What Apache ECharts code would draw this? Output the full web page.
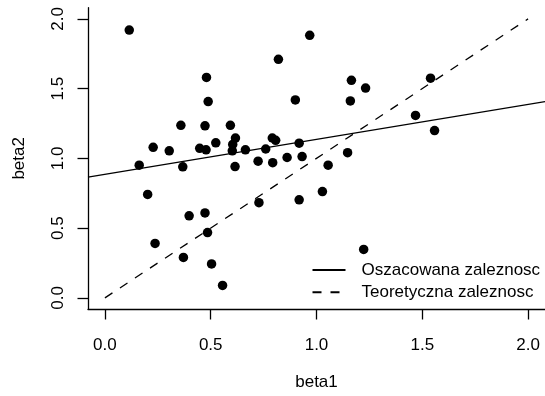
<!DOCTYPE html>
<html>
<head>
<meta charset="utf-8">
<script src="https://cdn.jsdelivr.net/npm/echarts@6/dist/echarts.min.js"></script>
<style>
html,body{margin:0;padding:0;background:#fff;}
#c{width:545px;height:396px;}
</style>
</head>
<body>
<div id="c"></div>
<script>
// Data
var beta1 = [0.115,0.820,0.968,0.480,0.488,0.900,1.165,1.232,1.160,1.539,1.468,1.558,
  0.359,0.473,0.593,0.228,0.304,0.448,0.478,0.524,0.617,0.604,0.602,0.664,0.760,0.791,
  0.807,0.724,0.793,0.861,0.918,0.932,1.055,1.147,0.162,0.368,0.615,0.202,0.398,0.473,
  0.728,0.918,1.028,0.485,0.237,0.371,0.504,0.556,1.223];
var beta2 = [1.920,1.710,1.882,1.580,1.407,1.419,1.559,1.504,1.412,1.575,1.308,1.199,
  1.237,1.233,1.237,1.079,1.054,1.072,1.061,1.111,1.145,1.100,1.054,1.061,1.067,1.146,
  1.129,0.980,0.969,1.006,1.109,1.013,0.951,1.041,0.951,0.939,0.941,0.741,0.588,0.609,
  0.682,0.703,0.762,0.468,0.390,0.290,0.243,0.089,0.347];
// fitted line endpoints (at plot edges) and theoretical line
var fitX = [-0.08, 2.08];
var fitY = [0.866, 1.407];
var theoX = [0, 2];
var theoY = [0, 2];
var tickValues = [0, 0.5, 1, 1.5, 2];
var seriesNames = ['Oszacowana zaleznosc', 'Teoretyczna zaleznosc'];

var pts = beta1.map(function(x, i){ return [x, beta2[i]]; });
var fitData = fitX.map(function(x, i){ return [x, fitY[i]]; });
var theoData = theoX.map(function(x, i){ return [x, theoY[i]]; });

var FONT = 'Liberation Sans';
var FS = 17;
function fmt(v){ return v.toFixed(1); }

var chart = echarts.init(document.getElementById('c'), null, {renderer:'canvas'});
chart.setOption({
  animation: false,
  backgroundColor: '#ffffff',
  textStyle: {fontFamily: FONT, color: '#000'},
  grid: {left: 88, right: 0, top: 7.7, bottom: 83.4, containLabel: false},
  legend: {
    orient: 'vertical',
    left: 311.5, top: 261.5,
    padding: 0,
    itemWidth: 33, itemHeight: 17, itemGap: 5.2,
    data: seriesNames,
    itemStyle: {opacity: 0},
    textStyle: {fontFamily: FONT, fontSize: FS, color: '#000', lineHeight: 17, padding: [0,0,0,11]}
  },
  xAxis: {
    type: 'value', min: -0.08, max: 2.08,
    name: 'beta1', nameLocation: 'middle', nameGap: 65,
    nameTextStyle: {fontFamily: FONT, fontSize: FS, color: '#000', lineHeight: 17},
    axisLine: {show: true, onZero: false, lineStyle: {color: '#000', width: 1.3}},
    axisTick: {show: true, customValues: tickValues, length: 10.5, lineStyle: {color: '#000', width: 1.3}},
    axisLabel: {customValues: tickValues, formatter: fmt, fontFamily: FONT, fontSize: FS, color: '#000', margin: 28, lineHeight: 17},
    splitLine: {show: false}
  },
  yAxis: {
    type: 'value', min: -0.08, max: 2.08,
    name: 'beta2', nameLocation: 'middle', nameGap: 60, nameRotate: 90,
    nameTextStyle: {fontFamily: FONT, fontSize: FS, color: '#000', lineHeight: 17},
    axisLine: {show: true, onZero: false, lineStyle: {color: '#000', width: 1.3}},
    axisTick: {show: true, customValues: tickValues, length: 10.5, lineStyle: {color: '#000', width: 1.3}},
    axisLabel: {customValues: tickValues, formatter: fmt, rotate: 90, fontFamily: FONT, fontSize: FS, color: '#000', margin: 21, lineHeight: 17},
    splitLine: {show: false}
  },
  series: [
    {
      type: 'scatter', name: 'points', data: pts,
      symbol: 'circle', symbolSize: 9.5,
      itemStyle: {color: '#000', opacity: 1}, silent: true, z: 3
    },
    {
      type: 'line', name: seriesNames[0], data: fitData,
      symbol: 'none', showSymbol: false, clip: true,
      lineStyle: {color: '#000', width: 1.3, type: 'solid'},
      itemStyle: {color: '#000'}, silent: true, z: 2
    },
    {
      type: 'line', name: seriesNames[1], data: theoData,
      symbol: 'none', showSymbol: false,
      lineStyle: {color: '#000', width: 1.3, type: [9, 9]},
      itemStyle: {color: '#000'}, silent: true, z: 2
    }
  ]
});
</script>
</body>
</html>
